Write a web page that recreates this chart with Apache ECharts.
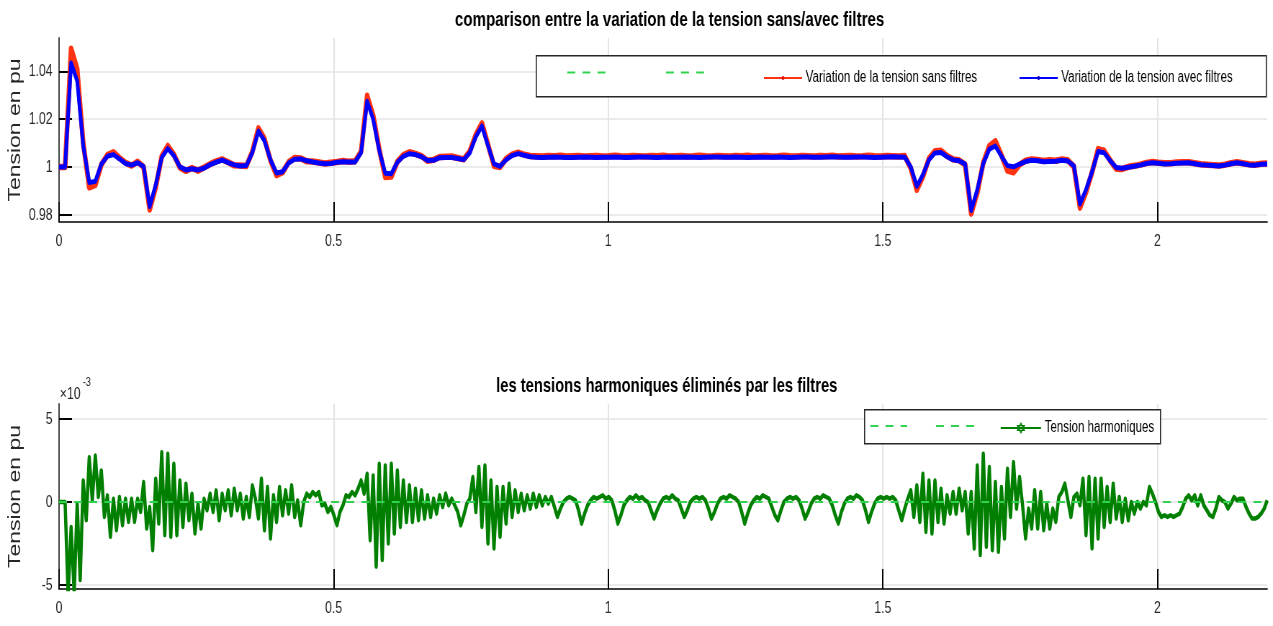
<!DOCTYPE html>
<html>
<head>
<meta charset="utf-8">
<script src="https://cdn.jsdelivr.net/npm/echarts/dist/echarts.min.js"></script>
<style>
html,body{margin:0;padding:0;background:#fff;overflow:hidden;}
#wrap{width:1273px;height:626px;overflow:hidden;}
/* The reference figure is horizontally compressed (tall, narrow glyphs); the chart is
   laid out on a wider canvas and compressed horizontally to reproduce that look. */
#chart{width:1768px;height:626px;transform:scaleX(0.72);transform-origin:0 0;}
</style>
</head>
<body>
<div id="wrap"><div id="chart"></div></div>
<script>
// ---------------- data ----------------
const timeStepTop = 0.011;      // s between samples (top plot)
const timeStepBottom = 0.0055;  // s between samples (bottom plot)
const xTicks = [0, 0.5, 1, 1.5, 2];
const yTicksTop = [0.98, 1, 1.02, 1.04];
const yTicksBottom = [-5, 0, 5];
const harmonicReference = 0;

// Variation de la tension avec filtres (pu)
const voltageWithFilters = [
1.000,1.000,1.0435,1.036,1.009,0.9935,0.9940,1.0012,1.0045,1.0052,
1.0034,1.0015,1.0008,1.0018,1.0002,0.9835,0.9925,1.0040,1.0077,1.0048,
1.0001,0.9988,0.9993,0.9988,0.9995,1.0010,1.0020,1.0029,1.0018,1.0009,
1.0004,1.0006,1.0060,1.0150,1.0110,1.0030,0.9975,0.9980,1.0017,1.0033,
1.0034,1.0026,1.0021,1.0017,1.0014,1.0015,1.0020,1.0022,1.0021,1.0021,
1.0060,1.0275,1.0200,1.0070,0.9974,0.9972,1.0020,1.0045,1.0056,1.0052,
1.0043,1.0027,1.0028,1.0039,1.0040,1.0040,1.0036,1.0031,1.0060,1.0127,
1.0172,1.0090,1.0013,1.0003,1.0030,1.0048,1.0056,1.0049,1.0043,
1.0041,1.0040,1.0041,1.0042,1.0041,1.0040,1.0040,1.0041,1.0042,1.0041,
1.0040,1.0041,1.0041,1.0042,1.0041,1.0040,1.0041,1.0042,1.0042,1.0041,
1.0040,1.0041,1.0042,1.0041,1.0041,1.0042,1.0041,1.0040,1.0041,1.0042,
1.0042,1.0041,1.0041,1.0042,1.0041,1.0040,1.0041,1.0042,1.0041,1.0041,
1.0042,1.0041,1.0040,1.0041,1.0042,1.0042,1.0041,1.0041,1.0042,1.0043,
1.0042,1.0041,1.0041,1.0042,1.0042,1.0041,1.0040,1.0041,1.0042,1.0043,
1.0042,1.0041,
1.0000,0.9920,0.9968,1.0030,1.0059,1.0061,1.0043,1.0030,1.0026,1.0012,
0.9818,0.9905,1.0015,1.0075,1.0088,1.0045,1.0006,1.0001,1.0012,1.0023,
1.0028,1.0026,1.0022,1.0023,1.0024,1.0028,1.0025,1.0005,0.9845,0.9905,
0.9980,1.0065,1.0060,1.0026,0.9998,0.9995,0.9999,1.0003,1.0008,1.0015,
1.0018,1.0016,1.0013,1.0014,1.0016,1.0017,1.0018,1.0014,1.0010,1.0008,
1.0006,1.0004,1.0008,1.0014,1.0018,1.0014,1.0009,1.0008,1.0012,1.0013
];

// Variation de la tension sans filtres (pu)
const voltageWithoutFilters = [
1.000,1.000,1.0495,1.041,1.010,0.9915,0.9925,1.0010,1.0050,1.0062,
1.0038,1.0018,1.0006,1.0022,1.0000,0.9822,0.9915,1.0045,1.0088,1.0052,
0.9998,0.9984,0.9996,0.9985,0.9998,1.0012,1.0024,1.0032,1.0020,1.0007,
1.0006,1.0004,1.0065,1.0162,1.0118,1.0028,0.9966,0.9978,1.0020,1.0038,
1.0036,1.0024,1.0023,1.0019,1.0015,1.0018,1.0021,1.0025,1.0022,1.0024,
1.0065,1.0298,1.0215,1.0075,0.9958,0.9960,1.0022,1.0050,1.0062,1.0055,
1.0046,1.0026,1.0030,1.0042,1.0043,1.0044,1.0038,1.0032,1.0066,1.0135,
1.0183,1.0095,1.0005,1.0000,1.0034,1.0052,1.0060,1.0052,1.0046,
1.0045,1.0044,1.0046,1.0045,1.0047,1.0044,1.0045,1.0046,1.0044,1.0045,
1.0046,1.0044,1.0045,1.0047,1.0045,1.0044,1.0046,1.0045,1.0044,1.0046,
1.0045,1.0047,1.0044,1.0045,1.0046,1.0044,1.0045,1.0047,1.0045,1.0044,
1.0046,1.0045,1.0044,1.0046,1.0045,1.0047,1.0044,1.0045,1.0046,1.0044,
1.0045,1.0047,1.0045,1.0044,1.0046,1.0045,1.0044,1.0046,1.0045,1.0047,
1.0044,1.0045,1.0046,1.0044,1.0045,1.0047,1.0045,1.0044,1.0046,1.0045,
1.0044,1.0046,
0.9995,0.9905,0.9960,1.0035,1.0066,1.0068,1.0046,1.0032,1.0028,1.0010,
0.9805,0.9892,1.0018,1.0088,1.0108,1.0050,0.9985,0.9978,1.0010,1.0026,
1.0032,1.0030,1.0025,1.0028,1.0026,1.0032,1.0028,1.0002,0.9830,0.9895,
0.9978,1.0075,1.0068,1.0028,0.9993,0.9992,1.0001,1.0005,1.0010,1.0017,
1.0021,1.0018,1.0016,1.0016,1.0019,1.0020,1.0020,1.0016,1.0012,1.0010,
1.0008,1.0006,1.0010,1.0016,1.0020,1.0016,1.0012,1.0010,1.0014,1.0015
];

// Tension harmoniques (x 1e-3 pu)
const harmonicVoltage = [
0,0,0,-5.6,-1.5,-5.5,-0.1,-4.7,1.3,-1.1,
2.7,0.1,2.8,0.3,1.9,-0.9,0.4,-2.1,0.2,-1.7,
0.3,-1.4,0.2,-1.2,0.2,-1.2,0.2,-0.6,1.2,-1.6,
-0.3,-2.9,1.4,-1.3,3.0,-2.0,2.9,-2.1,2.3,-2.0,
1.3,-1.5,1.1,-1.1,0.5,-1.9,-0.1,-1.6,0.2,-0.5,
0.5,-0.6,0.7,-1.1,0.5,-0.5,0.7,-0.8,0.8,-0.5,
0.5,-1.0,0.3,-0.9,1.0,0.2,-1.0,1.4,-1.7,0.9,
-2.2,0.4,-1.2,0.9,-0.8,0.7,-0.7,1.0,-0.9,0.1,
-1.4,0.0,0.5,0.3,0.6,0.4,0.6,-0.2,-0.1,-0.6,
-0.3,-0.8,-1.4,-0.6,-0.2,0.4,0.3,0.6,0.4,0.8,
1.3,0.5,1.7,-2.3,1.6,-3.9,2.3,-3.5,2.2,-2.5,
2.3,-1.9,1.9,-1.5,1.3,-1.2,1.0,-1.2,0.8,-1.1,
0.7,-1.0,0.4,-0.9,0.2,-0.7,0.4,-0.3,0.5,-0.2,
0.2,-0.2,-0.6,-1.4,-0.8,-0.1,0.2,1.5,-0.6,2.1,
-1.5,2.2,-2.5,1.3,-2.8,0.9,-2.1,0.9,-1.3,1.1,
-0.9,0.7,-0.6,0.5,-0.5,0.4,-0.4,0.5,-0.3,0.4,
-0.2,0.3,-0.1,0.3,-0.3,-0.9,-0.4,0.0,0.2,0.3,
0.2,0.1,-0.5,-1.3,-0.7,-0.2,0.1,0.3,0.2,0.3,
0.4,0.2,0.3,0.1,-0.5,-1.3,-0.8,-0.2,0.1,0.3,
0.2,0.4,0.2,0.3,0.1,0.0,-0.5,-1.0,-0.5,-0.1,
0.2,0.3,0.2,0.4,0.2,0.1,-0.4,-0.9,-0.5,0.0,
0.2,0.3,0.2,0.3,0.1,-0.4,-1.0,-0.6,-0.1,0.2,
0.3,0.2,0.4,0.3,0.2,0.0,-0.6,-1.3,-0.7,-0.2,
0.1,0.3,0.2,0.4,0.3,0.2,-0.3,-0.8,-1.1,-0.5,
0.0,0.2,0.3,0.2,0.3,0.1,-0.4,-1.0,-0.6,-0.1,
0.2,0.3,0.2,0.4,0.3,0.2,-0.2,-0.8,-1.3,-0.6,
-0.1,0.2,0.3,0.2,0.4,0.3,0.1,-0.5,-1.2,-0.6,
-0.1,0.2,0.3,0.2,0.3,0.2,0.3,0.1,-0.5,-1.1,
-0.4,0.2,0.7,-0.9,1.0,-1.2,1.7,-1.8,1.3,-1.9,
1.3,-1.2,0.8,-1.3,0.4,-0.7,0.6,-0.7,0.8,-0.5,
0.6,-1.9,0.6,-2.8,2.2,-3.2,2.9,-2.7,2.1,-2.9,
1.2,-3.0,0.9,-2.2,2.0,-0.9,2.4,-0.4,1.5,-0.2,
-2.2,-0.4,-1.6,0.7,-1.6,0.6,-1.7,-0.1,-1.6,-0.4,
-1.2,0.3,0.6,1.1,0.1,-0.9,0.3,0.5,-0.2,1.4,
-2.0,1.5,-2.8,1.4,-2.2,1.4,-1.5,0.9,-1.2,1.1,
-1.0,0.3,-1.2,0.2,-1.1,0.0,-0.7,0.0,-0.4,0.0,
-0.2,0.9,0.5,0.0,-0.6,-0.9,-0.8,-0.9,-0.8,-0.9,
-0.8,-0.7,-0.3,0.2,0.4,0.1,0.4,-0.2,0.4,-0.2,
-0.5,-0.8,-0.9,-0.4,0.3,0.1,0.0,-0.4,-0.1,0.3,
0.1,0.2,0.2,-0.3,-0.7,-1.0,-1.0,-0.9,-0.7,-0.4,
0.1
];

// ---------------- chart ----------------
const toPairs = (arr, step) => arr.map((v, i) => [+(i * step).toFixed(5), v]);
const SANS = '"Liberation Sans",Arial,Helvetica,sans-serif';
const RED = '#ff3311', BLUE = '#0000ff', GREEN = '#007f00', LGREEN = '#2fd34f';
const DASH = [11, 10];
const hexagram = 'path://M0,-10L8.66,5L-8.66,5Z M0,10L8.66,-5L-8.66,-5Z';

const chart = echarts.init(document.getElementById('chart'), null, {renderer: 'canvas'});

function xAxisCfg(gridIndex) {
  return {
    type: 'value', gridIndex, min: 0, max: 2.2,
    axisLine: {show: true, onZero: false, lineStyle: {color: '#404040', width: 1.8}},
    axisTick: {show: true, inside: true, length: 20, customValues: xTicks, lineStyle: {color: '#000', width: 2}},
    axisLabel: {customValues: xTicks, margin: 11, color: '#262626', fontSize: 17, fontFamily: SANS},
    splitLine: {show: true, lineStyle: {color: '#e4e4e4', width: 2}}
  };
}
function yAxisCfg(gridIndex, min, max, ticks) {
  return {
    type: 'value', gridIndex, min, max,
    name: 'Tension en pu', nameLocation: 'middle', nameGap: 49, nameMoveOverlap: false,
    nameTextStyle: {fontSize: 23, fontFamily: SANS, color: '#262626'},
    axisLine: {show: true, lineStyle: {color: '#404040', width: 2}},
    axisTick: {show: true, inside: true, length: 18, customValues: ticks, lineStyle: {color: '#000', width: 2}},
    axisLabel: {customValues: ticks, margin: 9, color: '#262626', fontSize: 17, fontFamily: SANS},
    splitLine: {show: true, lineStyle: {color: '#e4e4e4', width: 1.5}}
  };
}
const legText = {fontSize: 16, fontFamily: SANS, color: '#000'};
function leg(left, top, w, h, item, empty) {
  const o = {
    data: [item], left, top, itemWidth: w, itemHeight: h, padding: 0,
    textStyle: legText, selectedMode: false, z: 6
  };
  if (empty) o.formatter = () => '';
  return o;
}
const hideSym = {color: 'rgba(0,0,0,0)', borderWidth: 0, opacity: 0};

const option = {
  animation: false,
  backgroundColor: '#fff',
  title: [
    {text: 'comparison entre la variation de la tension sans/avec filtres', left: 925, top: 5, textAlign: 'center',
     textStyle: {fontSize: 21, fontWeight: 'bold', fontFamily: SANS, color: '#000'}},
    {text: 'les tensions harmoniques éliminés par les filtres', left: 921, top: 371, textAlign: 'center',
     textStyle: {fontSize: 20.5, fontWeight: 'bold', fontFamily: SANS, color: '#000'}}
  ],
  grid: [
    {left: 82, right: 8, top: 38, height: 184, containLabel: false, outerBoundsMode: 'none'},
    {left: 82, right: 8, top: 404, height: 185, containLabel: false, outerBoundsMode: 'none'}
  ],
  xAxis: [xAxisCfg(0), xAxisCfg(1)],
  yAxis: [yAxisCfg(0, 0.977, 1.054, yTicksTop), yAxisCfg(1, -5.24, 5.9, yTicksBottom)],
  legend: [
    leg(787, 70, 56, 5, {name: 'ref1', itemStyle: hideSym, lineStyle: {width: 1.8}}, true),
    leg(924, 70, 56, 5, {name: 'ref2', itemStyle: hideSym, lineStyle: {width: 1.8}}, true),
    leg(1060, 70, 53, 5, {name: 'Variation de la tension sans filtres', lineStyle: {width: 2}}),
    leg(1415, 70, 53, 5, {name: 'Variation de la tension avec filtres', lineStyle: {width: 2}}),
    leg(1208, 420, 51, 12, {name: 'ref3', itemStyle: hideSym, lineStyle: {width: 1.8}}, true),
    leg(1299, 420, 56, 12, {name: 'ref4', itemStyle: hideSym, lineStyle: {width: 1.8}}, true),
    leg(1389, 420, 56, 12, {name: 'Tension harmoniques', itemStyle: {color: '#fff', borderColor: GREEN, borderWidth: 1.4}, lineStyle: {width: 1.8}})
  ],
  graphic: [
    {type: 'rect', left: 744, top: 55, z: 5, shape: {width: 1014, height: 41},
     style: {fill: '#fff', stroke: '#262626', lineWidth: 1.6}},
    {type: 'rect', left: 1200, top: 409, z: 5, shape: {width: 411, height: 34},
     style: {fill: '#fff', stroke: '#262626', lineWidth: 1.6}},
    {type: 'text', left: 83, top: 386, z: 5, style: {text: '×10', fontSize: 17, fontFamily: SANS, fill: '#262626'}},
    {type: 'text', left: 115, top: 376, z: 5, style: {text: '-3', fontSize: 12.5, fontFamily: SANS, fill: '#262626'}}
  ],
  series: [
    {name: 'ref1', type: 'line', xAxisIndex: 0, yAxisIndex: 0, data: [], symbol: 'none',
     lineStyle: {color: LGREEN, type: DASH, width: 1.5}, itemStyle: {color: LGREEN}},
    {name: 'ref2', type: 'line', xAxisIndex: 0, yAxisIndex: 0, data: [], symbol: 'none',
     lineStyle: {color: LGREEN, type: DASH, width: 1.5}, itemStyle: {color: LGREEN}},
    {name: 'Variation de la tension sans filtres', type: 'line', xAxisIndex: 0, yAxisIndex: 0,
     data: toPairs(voltageWithoutFilters, timeStepTop), symbol: 'circle', showSymbol: false, z: 2,
     lineStyle: {color: RED, width: 6.5, join: 'round'}, itemStyle: {color: '#e01000'}},
    {name: 'Variation de la tension avec filtres', type: 'line', xAxisIndex: 0, yAxisIndex: 0,
     data: toPairs(voltageWithFilters, timeStepTop), symbol: 'circle', showSymbol: false, z: 3,
     lineStyle: {color: BLUE, width: 5, join: 'round'}, itemStyle: {color: '#0000cc'}},
    {name: 'ref3', type: 'line', xAxisIndex: 1, yAxisIndex: 1, data: [], symbol: 'none', z: 1,
     lineStyle: {color: LGREEN, type: DASH, width: 1.5}, itemStyle: {color: LGREEN},
     markLine: {silent: true, symbol: 'none', label: {show: false},
       lineStyle: {color: LGREEN, type: DASH, width: 2}, data: [{yAxis: harmonicReference}]}},
    {name: 'ref4', type: 'line', xAxisIndex: 1, yAxisIndex: 1, data: [], symbol: 'none',
     lineStyle: {color: LGREEN, type: DASH, width: 1.5}, itemStyle: {color: LGREEN}},
    {name: 'Tension harmoniques', type: 'line', xAxisIndex: 1, yAxisIndex: 1,
     data: toPairs(harmonicVoltage, timeStepBottom), symbol: hexagram, showSymbol: false, z: 3,
     lineStyle: {color: GREEN, width: 4.5, join: 'round'}, itemStyle: {color: GREEN}}
  ]
};
chart.setOption(option);
</script>
</body>
</html>
